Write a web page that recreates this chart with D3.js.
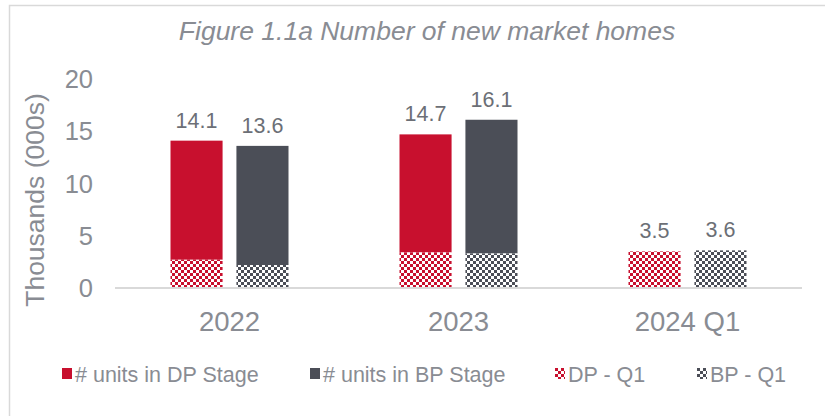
<!DOCTYPE html>
<html>
<head>
<meta charset="utf-8">
<style>
  html, body { margin: 0; padding: 0; background: #fff; }
  svg { display: block; font-family: "Liberation Sans", Arial, sans-serif; }
</style>
</head>
<body>
<div id="chart"></div>
<script src="https://d3js.org/d3.v7.min.js"></script>
<script>
    const categories = ["2022", "2023", "2024 Q1"];
    const dpTotal = [14.1, 14.7, 3.5];   // # units in DP stage (label value)
    const bpTotal = [13.6, 16.1, 3.6];   // # units in BP stage (label value)
    const dpQ1 = [2.7, 3.4, 3.5];        // hatched part, DP - Q1
    const bpQ1 = [2.2, 3.3, 3.6];        // hatched part, BP - Q1
    const yTicks = [0, 5, 10, 15, 20];

    const series = [
        { key: "DP", total: dpTotal, q1: dpQ1, color: "#c8102e" },
        { key: "BP", total: bpTotal, q1: bpQ1, color: "#4b4e57" },
    ];
    const legendItems = [
        { label: "# units in DP Stage", fill: "#c8102e" },
        { label: "# units in BP Stage", fill: "#4b4e57" },
        { label: "DP - Q1", fill: "url(#check-DP)" },
        { label: "BP - Q1", fill: "url(#check-BP)" },
    ];

    const width = 825, height = 416;
    const textColor = "#898c93";

    const svg = d3.select("#chart").append("svg")
        .attr("width", width)
        .attr("height", height);

    // checker patterns for the Q1 portions
    const defs = svg.append("defs");
    for (const s of series) {
        const p = defs.append("pattern")
            .attr("id", "check-" + s.key)
            .attr("patternUnits", "userSpaceOnUse")
            .attr("width", 6)
            .attr("height", 6);
        p.append("rect").attr("width", 6).attr("height", 6).attr("fill", "#fff");
        p.append("rect").attr("width", 3).attr("height", 3).attr("fill", s.color);
        p.append("rect").attr("x", 3).attr("y", 3).attr("width", 3).attr("height", 3).attr("fill", s.color);
    }

    svg.append("rect")
        .attr("width", width).attr("height", height).attr("fill", "#fff");

    // chart frame (cropped on right and bottom)
    svg.append("rect")
        .attr("x", 9.5).attr("y", 5.5)
        .attr("width", width + 20).attr("height", height + 20)
        .attr("fill", "none")
        .attr("stroke", "#d9d9d9")
        .attr("stroke-width", 1.5);

    svg.append("text")
        .attr("x", 427).attr("y", 40)
        .attr("text-anchor", "middle")
        .attr("font-size", 26.5)
        .attr("font-style", "italic")
        .attr("fill", textColor)
        .text("Figure 1.1a Number of new market homes");

    const x = d3.scaleBand().domain(categories).range([115, 802]);
    const xInner = d3.scaleBand()
        .domain(series.map(s => s.key))
        .range([(x.bandwidth() - 118) / 2, (x.bandwidth() + 118) / 2])
        .paddingInner(0.21);
    const y = d3.scaleLinear().domain([0, 20]).range([288, 79]);

    // y tick labels
    svg.append("g")
        .selectAll("text")
        .data(yTicks)
        .join("text")
        .attr("x", 93)
        .attr("y", d => y(d))
        .attr("dy", "0.36em")
        .attr("text-anchor", "end")
        .attr("font-size", 25.5)
        .attr("fill", textColor)
        .text(d => d);

    svg.append("text")
        .attr("transform", `translate(44,200) rotate(-90)`)
        .attr("text-anchor", "middle")
        .attr("font-size", 26.5)
        .attr("fill", textColor)
        .text("Thousands (000s)");

    const groups = svg.append("g")
        .selectAll("g")
        .data(categories)
        .join("g")
        .attr("transform", d => `translate(${x(d)},0)`);

    for (const s of series) {
        // solid part
        groups.append("rect")
            .attr("x", xInner(s.key))
            .attr("width", xInner.bandwidth())
            .attr("y", (d, i) => y(s.total[i]))
            .attr("height", (d, i) => Math.max(0, y(s.q1[i]) - y(s.total[i])))
            .attr("fill", s.color);
        // Q1 hatched part
        groups.append("rect")
            .attr("x", xInner(s.key))
            .attr("width", xInner.bandwidth())
            .attr("y", (d, i) => y(s.q1[i]))
            .attr("height", (d, i) => y(0) - y(s.q1[i]))
            .attr("fill", `url(#check-${s.key})`);
        // value labels
        groups.append("text")
            .attr("x", xInner(s.key) + xInner.bandwidth() / 2)
            .attr("y", (d, i) => y(s.total[i]) - 13)
            .attr("text-anchor", "middle")
            .attr("font-size", 21.5)
            .attr("fill", "#6c6f76")
            .text((d, i) => s.total[i].toFixed(1));
    }

    // baseline
    svg.append("line")
        .attr("x1", 115).attr("x2", 802)
        .attr("y1", y(0)).attr("y2", y(0))
        .attr("stroke", "#d9d9d9")
        .attr("stroke-width", 2);

    // category labels
    svg.append("g")
        .selectAll("text")
        .data(categories)
        .join("text")
        .attr("x", d => x(d) + x.bandwidth() / 2)
        .attr("y", 331)
        .attr("text-anchor", "middle")
        .attr("font-size", 27.5)
        .attr("fill", textColor)
        .text(d => d);

    // legend
    const legendX = [62, 310, 555, 697];
    const legend = svg.append("g")
        .selectAll("g")
        .data(legendItems)
        .join("g")
        .attr("transform", (d, i) => `translate(${legendX[i]},368)`);
    legend.append("rect")
        .attr("width", 10).attr("height", 11)
        .attr("fill", d => d.fill);
    legend.append("text")
        .attr("x", 13).attr("y", 14)
        .attr("font-size", 21.5)
        .attr("fill", textColor)
        .text(d => d.label);
</script>
</body>
</html>
